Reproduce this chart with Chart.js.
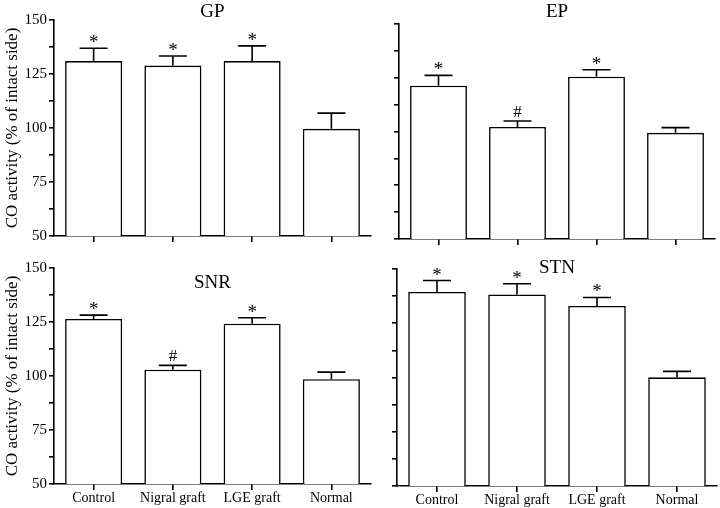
<!DOCTYPE html>
<html>
<head>
<meta charset="utf-8">
<script src="https://cdn.jsdelivr.net/npm/chart.js@4/dist/chart.umd.min.js"></script>
<style>
  body { margin: 0; background: #fff; }
  #wrap { position: relative; width: 720px; height: 508px; overflow: hidden; }
  canvas { position: absolute; }
</style>
</head>
<body>
<div id="wrap">
  <canvas id="gp" width="375" height="250" style="left:0;top:0"></canvas>
  <canvas id="ep" width="360" height="250" style="left:360px;top:0"></canvas>
  <canvas id="snr" width="375" height="258" style="left:0;top:250px"></canvas>
  <canvas id="stn" width="360" height="258" style="left:360px;top:250px"></canvas>
</div>
<script>
// groups on the x axis
const groups = ['Control', 'Nigral graft', 'LGE graft', 'Normal'];
const yTicks = [50, 75, 100, 125, 150];

// CO activity, % of intact side (mean and SEM)
const gpMean = [131, 128.9, 131, 99.6];
const gpSem = [5.9, 4.4, 7, 7.3];
const gpMarks = ['*', '*', '*', ''];

const epMean = [121.3, 102.1, 125.5, 99.4];
const epSem = [4.8, 2.8, 3.2, 2.4];
const epMarks = ['*', '#', '*', ''];

const snrMean = [126.4, 102.9, 124.2, 98.5];
const snrSem = [1.8, 2.0, 2.8, 3.3];
const snrMarks = ['*', '#', '*', ''];

const stnMean = [139.4, 138.3, 133, 100.1];
const stnSem = [5.3, 4.9, 3.9, 2.7];
const stnMarks = ['*', '*', '*', ''];

const serif = '"Liberation Serif", "Times New Roman", serif';

// error bars, significance marks and panel name
const panelPlugin = {
  id: 'panel',
  afterDatasetsDraw(chart, args, opts) {
    const ctx = chart.ctx;
    const y = chart.scales.y;
    const meta = chart.getDatasetMeta(0);
    ctx.save();
    ctx.strokeStyle = '#000';
    ctx.lineWidth = 1.6;
    ctx.fillStyle = '#000';
    meta.data.forEach((bar, i) => {
      const cx = bar.x;
      const top = y.getPixelForValue(opts.mean[i]);
      const errTop = y.getPixelForValue(opts.mean[i] + opts.sem[i]);
      ctx.beginPath();
      ctx.moveTo(cx, top);
      ctx.lineTo(cx, errTop);
      ctx.moveTo(cx - 14, errTop);
      ctx.lineTo(cx + 14, errTop);
      ctx.stroke();
      const m = opts.marks[i];
      if (m) {
        ctx.font = (m === '#' ? '17px ' : '19px ') + serif;
        ctx.textAlign = 'center';
        ctx.textBaseline = 'alphabetic';
        ctx.fillText(m, cx, errTop - (m === '#' ? 4 : 0));
      }
    });
    ctx.font = '19px ' + serif;
    ctx.textAlign = 'center';
    ctx.textBaseline = 'middle';
    const area = chart.chartArea;
    ctx.fillText(opts.name, (area.left + area.right) / 2, area.top + opts.titleDy);
    ctx.restore();
  }
};

function makePanel(id, name, mean, sem, marks, lay) {
  new Chart(document.getElementById(id), {
    type: 'bar',
    data: {
      labels: groups,
      datasets: [{
        data: mean,
        backgroundColor: '#fff',
        borderColor: '#000',
        borderWidth: 1.6,
        barPercentage: 0.72,
        categoryPercentage: 1
      }]
    },
    options: {
      responsive: false,
      animation: false,
      devicePixelRatio: 1,
      layout: { padding: { top: lay.padTop, right: lay.padRight, left: 0, bottom: 0 } },
      plugins: {
        legend: { display: false },
        tooltip: { enabled: false },
        panel: { name: name, mean: mean, sem: sem, marks: marks, titleDy: lay.titleDy }
      },
      scales: {
        x: {
          grid: { offset: false, drawOnChartArea: false, tickLength: 6, color: '#000', lineWidth: 1.6 },
          border: { color: '#000', width: 1.6 },
          ticks: { display: lay.xLabels, color: '#000', padding: 0, maxRotation: 0, font: { family: serif, size: 14 } },
          afterFit(s) { s.height = lay.xHeight; }
        },
        y: {
          min: 50,
          max: 150,
          grid: { drawOnChartArea: false, tickLength: 5, color: '#000', lineWidth: 1.6 },
          border: { color: '#000', width: 1.6 },
          ticks: {
            stepSize: 12.5,
            autoSkip: false,
            padding: 2,
            color: '#000',
            font: { family: serif, size: 15 },
            callback: v => (lay.yLabels && yTicks.includes(v)) ? v : ''
          },
          title: {
            display: lay.yLabels,
            text: 'CO activity (% of intact side)',
            color: '#000',
            font: { family: serif, size: 17 },
            padding: { top: 2, bottom: 0 }
          },
          afterFit(s) { s.width = lay.yWidth; }
        }
      }
    },
    plugins: [panelPlugin]
  });
}

makePanel('gp', 'GP', gpMean, gpSem, gpMarks,
  { yLabels: true, xLabels: false, yWidth: 54, xHeight: 14, padTop: 20, padRight: 4, titleDy: -8 });
makePanel('ep', 'EP', epMean, epSem, epMarks,
  { yLabels: false, xLabels: false, yWidth: 39, xHeight: 11, padTop: 24, padRight: 5, titleDy: -12 });
makePanel('snr', 'SNR', snrMean, snrSem, snrMarks,
  { yLabels: true, xLabels: true, yWidth: 54, xHeight: 24, padTop: 18, padRight: 4, titleDy: 15 });
makePanel('stn', 'STN', stnMean, stnSem, stnMarks,
  { yLabels: false, xLabels: true, yWidth: 37, xHeight: 22, padTop: 19, padRight: 3, titleDy: -1 });
</script>
</body>
</html>
